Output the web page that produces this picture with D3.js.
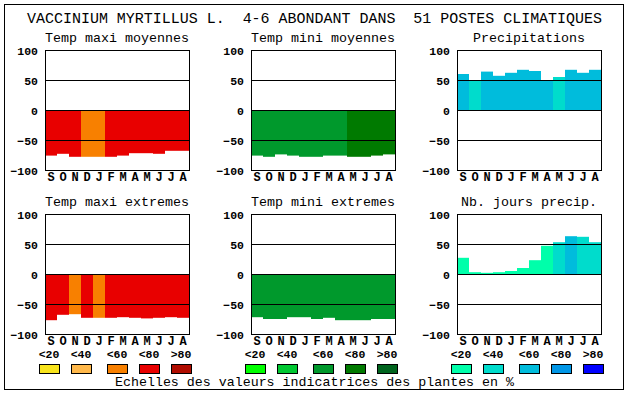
<!DOCTYPE html>
<html>
<head>
<meta charset="utf-8">
<script src="https://cdn.jsdelivr.net/npm/d3@7"></script>
<style>
  body { margin: 0; background: #fff; }
  text { font-family: "Liberation Mono", "DejaVu Sans Mono", monospace; white-space: pre; }
</style>
</head>
<body>
<div id="chart"></div>
<script>
// data
const months = ["S", "O", "N", "D", "J", "F", "M", "A", "M", "J", "J", "A"]
const yTicks = [100, 50, 0, -50, -100]
const gridValues = [50, 0, -50]
const legendLabels = ["<20", "<40", "<60", "<80", ">80"]

const redScale = ["#f8e41c", "#ffb84a", "#f88000", "#e80000", "#b00c00"]
const greenScale = ["#00ff00", "#00c832", "#00992c", "#007a00", "#00641e"]
const blueScale = ["#00ffaa", "#00dccc", "#00bcdc", "#0096e6", "#0000ff"]

const maxiMoyValues = [-76, -73, -78, -78, -78, -78, -76, -72, -72, -73, -68, -68]
const maxiMoyClass  = [3, 3, 3, 2, 2, 3, 3, 3, 3, 3, 3, 3]
const miniMoyValues = [-76, -78, -74, -76, -78, -78, -76, -76, -78, -78, -76, -74]
const miniMoyClass  = [2, 2, 2, 2, 2, 2, 2, 2, 3, 3, 3, 3]
const precipValues  = [60, 49, 64, 57, 62, 67, 65, 50, 55, 67, 62, 67]
const precipClass   = [2, 1, 2, 2, 2, 2, 2, 2, 1, 2, 2, 2]
const maxiExtValues = [-77, -68, -67, -73, -73, -73, -72, -73, -74, -73, -72, -73]
const maxiExtClass  = [3, 3, 2, 3, 2, 3, 3, 3, 3, 3, 3, 3]
const miniExtValues = [-72, -75, -75, -72, -72, -75, -73, -77, -77, -77, -75, -75]
const miniExtClass  = [2, 2, 2, 2, 2, 2, 2, 2, 2, 2, 2, 2]
const joursValues   = [27, 3, 2, 3, 5, 10, 23, 47, 53, 63, 62, 53]
const joursClass    = [0, 0, 0, 0, 0, 0, 0, 0, 1, 2, 1, 1]

const title = "VACCINIUM MYRTILLUS L.  4-6 ABONDANT DANS  51 POSTES CLIMATIQUES"
const footer = "Echelles des valeurs indicatrices des plantes en %"

const panels = [
  {name: "Temp maxi moyennes", values: maxiMoyValues, cls: maxiMoyClass, colors: redScale, col: 0, row: 0},
  {name: "Temp mini moyennes", values: miniMoyValues, cls: miniMoyClass, colors: greenScale, col: 1, row: 0},
  {name: "Precipitations", values: precipValues, cls: precipClass, colors: blueScale, col: 2, row: 0},
  {name: "Temp maxi extremes", values: maxiExtValues, cls: maxiExtClass, colors: redScale, col: 0, row: 1},
  {name: "Temp mini extremes", values: miniExtValues, cls: miniExtClass, colors: greenScale, col: 1, row: 1},
  {name: "Nb. jours precip.", values: joursValues, cls: joursClass, colors: blueScale, col: 2, row: 1}
]

// layout
const W = 630, H = 394
const colX = [45, 251, 457]
const rowY = [50, 214]
const pw = 144, ph = 120
const legendOffsets = [-6, 26, 62, 94, 126]

const svg = d3.select("#chart").append("svg")
    .attr("width", W)
    .attr("height", H)

svg.append("rect")
    .attr("width", W).attr("height", H)
    .attr("fill", "#fff")

svg.append("rect")
    .attr("x", 4.5).attr("y", 4.5)
    .attr("width", 619).attr("height", 385)
    .attr("fill", "none")
    .attr("stroke", "#000")

svg.append("text")
    .attr("x", 27).attr("y", 23)
    .attr("font-size", 14.5)
    .attr("textLength", 575)
    .attr("lengthAdjust", "spacingAndGlyphs")
    .text(title)

const x = d3.scaleBand().domain(d3.range(months.length)).range([0, pw])
const y = d3.scaleLinear().domain([-100, 100]).range([ph, 0])

panels.forEach(function(p) {
    const g = svg.append("g")
        .attr("transform", "translate(" + colX[p.col] + "," + rowY[p.row] + ")")

    g.append("text")
        .attr("x", pw / 2).attr("y", -8.5)
        .attr("text-anchor", "middle")
        .attr("font-size", 13)
        .attr("textLength", 8 * p.name.length)
        .attr("lengthAdjust", "spacingAndGlyphs")
        .text(p.name)

    g.selectAll("rect.bar")
      .data(p.values)
      .enter().append("rect")
        .attr("class", "bar")
        .attr("x", (d, i) => x(i))
        .attr("width", x.bandwidth())
        .attr("y", d => y(Math.max(0, d)))
        .attr("height", d => Math.abs(y(d) - y(0)))
        .attr("fill", (d, i) => p.colors[p.cls[i]])

    g.selectAll("line.grid")
      .data(gridValues)
      .enter().append("line")
        .attr("x1", 0).attr("x2", pw)
        .attr("y1", d => y(d) + 0.5).attr("y2", d => y(d) + 0.5)
        .attr("stroke", "#000")

    g.append("rect")
        .attr("x", 0.5).attr("y", 0.5)
        .attr("width", pw).attr("height", ph)
        .attr("fill", "none")
        .attr("stroke", "#000")

    const yAxis = g.append("g")
        .call(d3.axisLeft(y).tickValues(yTicks).tickSize(0).tickPadding(7))
    yAxis.select(".domain").remove()
    yAxis.selectAll("text")
        .attr("font-family", "DejaVu Sans Mono")
        .attr("font-weight", "bold")
        .attr("font-size", 11.5)
        .attr("dy", "0.42em")
        .attr("fill", "#000")

    const xAxis = g.append("g")
        .attr("transform", "translate(0," + ph + ")")
        .call(d3.axisBottom(x).tickFormat(i => months[i]).tickSize(0).tickPadding(2.5))
    xAxis.select(".domain").remove()
    xAxis.selectAll("text")
        .attr("font-family", "DejaVu Sans Mono")
        .attr("font-weight", "bold")
        .attr("font-size", 12)
        .attr("fill", "#000")

    if (p.row === 1) {
        const lg = g.selectAll("g.legend")
          .data(legendLabels)
          .enter().append("g")
            .attr("class", "legend")
            .attr("transform", (d, i) => "translate(" + legendOffsets[i] + ",0)")
        lg.append("text")
            .attr("x", 10).attr("y", 144)
            .attr("text-anchor", "middle")
            .attr("font-family", "DejaVu Sans Mono")
            .attr("font-weight", "bold")
            .attr("font-size", 11.5)
            .text(d => d)
        lg.append("rect")
            .attr("x", 0.5).attr("y", 150.5)
            .attr("width", 20).attr("height", 9)
            .attr("fill", (d, i) => p.colors[i])
            .attr("stroke", "#000")
    }
})

svg.append("text")
    .attr("x", 115).attr("y", 386)
    .attr("font-size", 13)
    .attr("textLength", 399)
    .attr("lengthAdjust", "spacingAndGlyphs")
    .text(footer)
</script>
</body>
</html>
